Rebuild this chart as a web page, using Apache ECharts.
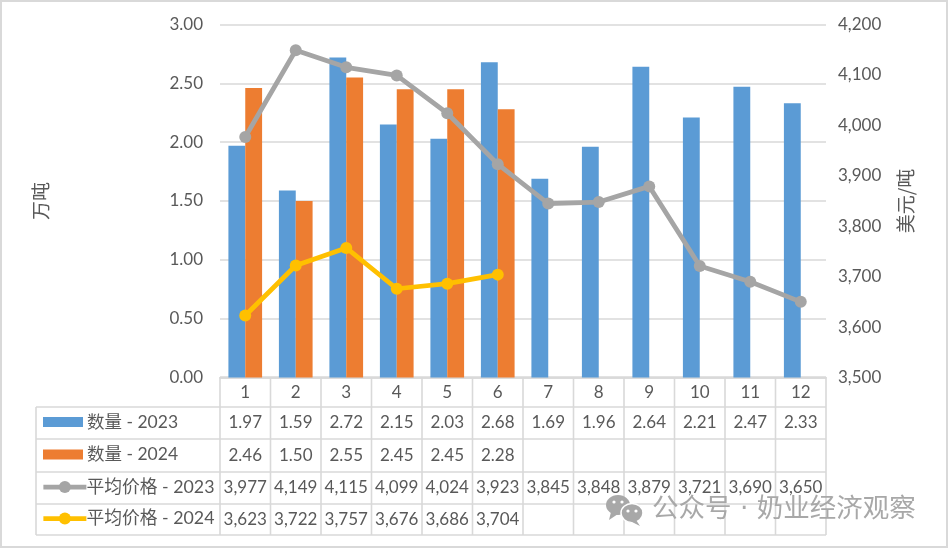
<!DOCTYPE html>
<html>
<head>
<meta charset="utf-8">
<style>html,body{margin:0;padding:0;background:#fff}#chart{width:948px;height:548px}</style>
<script src="https://cdn.jsdelivr.net/npm/echarts@6/dist/echarts.min.js"></script>
</head>
<body>
<div id="chart"></div>
<script>
const months = ['1','2','3','4','5','6','7','8','9','10','11','12'];
const quantity2023 = [1.97,1.59,2.72,2.15,2.03,2.68,1.69,1.96,2.64,2.21,2.47,2.33];
const quantity2024 = [2.46,1.50,2.55,2.45,2.45,2.28,null,null,null,null,null,null];
const price2023 = [3977,4149,4115,4099,4024,3923,3845,3848,3879,3721,3690,3650];
const price2024 = [3623,3722,3757,3676,3686,3704,null,null,null,null,null,null];
const seriesNames = ['数量 - 2023','数量 - 2024','平均价格 - 2023','平均价格 - 2024'];

// Plot box and data-table geometry
const plot = {left:220, right:826, top:24.5, bottom:377.5};
const rowEdges = [377,407,439,472,504,535];
const tableLeft = 36;
const colWidth = (plot.right - plot.left) / months.length;

const textColor = '#595959';
const ruleColor = '#d9d9d9';
const latin = 'Lato, "Noto Sans CJK SC", sans-serif';
const cjk = '"Noto Sans CJK SC", sans-serif';

const fmt2 = v => v == null ? '' : v.toFixed(2);
const fmtK = v => v == null ? '' : v.toLocaleString('en-US');

const tableRows = [
  quantity2023.map(fmt2),
  quantity2024.map(fmt2),
  price2023.map(fmtK),
  price2024.map(fmtK)
];

const graphics = [];
// outer frame
graphics.push({type:'rect',shape:{x:1,y:1,width:946,height:546},style:{fill:'none',stroke:ruleColor,lineWidth:2},silent:true,z:0});

function rule(x1,y1,x2,y2){
  graphics.push({type:'line',shape:{x1,y1,x2,y2},style:{stroke:ruleColor,lineWidth:1.6},silent:true,z:1});
}
// horizontal table rules
rowEdges.forEach((y,i)=>rule(i===0?plot.left:tableLeft,y,plot.right,y));
// vertical table rules
rule(tableLeft,rowEdges[1],tableLeft,rowEdges[5]);
for(let c=0;c<=months.length;c++){
  const x=plot.left+c*colWidth;
  rule(x,rowEdges[0],x,rowEdges[5]);
}
// table cell values
tableRows.forEach((row,r)=>{
  const yc=(rowEdges[r+1]+rowEdges[r+2])/2;
  row.forEach((txt,c)=>{
    if(!txt) return;
    graphics.push({type:'text',x:plot.left+(c+.5)*colWidth,y:yc,silent:true,z:3,
      style:{text:txt,fill:textColor,font:'17px '+latin,align:'center',verticalAlign:'middle'}});
  });
});
// axis titles
graphics.push({type:'text',x:41,y:201,rotation:Math.PI/2,silent:true,z:3,
  style:{text:'万吨',fill:textColor,font:'19px '+cjk,align:'center',verticalAlign:'middle'}});
graphics.push({type:'text',x:906,y:201,rotation:Math.PI/2,silent:true,z:3,
  style:{text:'美元/吨',fill:textColor,font:'19px '+cjk,align:'center',verticalAlign:'middle'}});
// publisher mark
const markColor='#a8a8a8';
graphics.push({type:'text',x:652,y:510,silent:true,z:6,
  style:{text:'公众号 · 奶业经济观察',fill:markColor,font:'26.5px "DejaVu Sans", '+cjk,align:'left',verticalAlign:'middle'}});
graphics.push({type:'ellipse',shape:{cx:618,cy:505,rx:12,ry:10},style:{fill:markColor},silent:true,z:6});
graphics.push({type:'polygon',shape:{points:[[611,512],[609,520],[618,514]]},style:{fill:markColor},silent:true,z:6});
graphics.push({type:'ellipse',shape:{cx:632,cy:513,rx:11,ry:9.5},style:{fill:markColor,stroke:'#fff',lineWidth:1.5},silent:true,z:7});
graphics.push({type:'polygon',shape:{points:[[636,520],[640,526],[630,521]]},style:{fill:markColor},silent:true,z:7});
[[614,502],[622,502],[628,511],[636,511]].forEach(([cx,cy])=>{
  graphics.push({type:'circle',shape:{cx,cy,r:1.6},style:{fill:'#fff'},silent:true,z:8});
});

// one legend per table row so each key sits inside its own row
const legends = seriesNames.map((name,i)=>{
  const isLine = i>=2;
  const h = isLine ? 15 : 10;
  const yc = (rowEdges[i+1]+rowEdges[i+2])/2 - 1;
  return {
    orient:'horizontal',padding:0,
    left:isLine?41:43,top:yc-12,height:24,
    itemWidth:isLine?43:40,itemHeight:h,
    lineStyle:{width:4.75},
    textStyle:{color:textColor,fontSize:isLine?17.8:17.5,fontFamily:latin,lineHeight:24,padding:[0,0,0,isLine?-5:-1]},
    data:[isLine?name:{name,icon:'rect'}],selectedMode:false
  };
});

const chart = echarts.init(document.getElementById('chart'),null,{renderer:'canvas'});
chart.setOption({
  animation:false,
  backgroundColor:'#fff',
  grid:{left:plot.left,top:plot.top,width:plot.right-plot.left,height:plot.bottom-plot.top,containLabel:false},
  legend:legends,
  xAxis:{
    type:'category',data:months,
    axisLine:{lineStyle:{color:ruleColor,width:1.6}},
    axisTick:{show:false},
    axisLabel:{color:textColor,fontSize:17,fontFamily:latin,margin:7}
  },
  yAxis:[
    {type:'value',min:0,max:3,interval:0.5,
      axisLine:{show:false},axisTick:{show:false},
      splitLine:{lineStyle:{color:ruleColor,width:1.6}},
      axisLabel:{color:textColor,fontSize:17,fontFamily:latin,margin:17,padding:[1,0,0,0],formatter:v=>v.toFixed(2)}},
    {type:'value',min:3500,max:4200,interval:100,position:'right',
      axisLine:{show:false},axisTick:{show:false},splitLine:{show:false},
      axisLabel:{color:textColor,fontSize:17,fontFamily:latin,margin:12,padding:[2,0,0,0],formatter:v=>v.toLocaleString('en-US')}}
  ],
  series:[
    {name:seriesNames[0],type:'bar',data:quantity2023,barGap:0,barCategoryGap:'33.3%',itemStyle:{color:'#5b9bd5'},z:2},
    {name:seriesNames[1],type:'bar',data:quantity2024,itemStyle:{color:'#ed7d31'},z:2},
    {name:seriesNames[2],type:'line',yAxisIndex:1,data:price2023,symbol:'circle',symbolSize:12,
      lineStyle:{color:'#a5a5a5',width:4.75},itemStyle:{color:'#a5a5a5'},z:4},
    {name:seriesNames[3],type:'line',yAxisIndex:1,data:price2024,symbol:'circle',symbolSize:12,
      lineStyle:{color:'#ffc000',width:4.75},itemStyle:{color:'#ffc000'},z:4}
  ],
  graphic:graphics
});
</script>
</body>
</html>
